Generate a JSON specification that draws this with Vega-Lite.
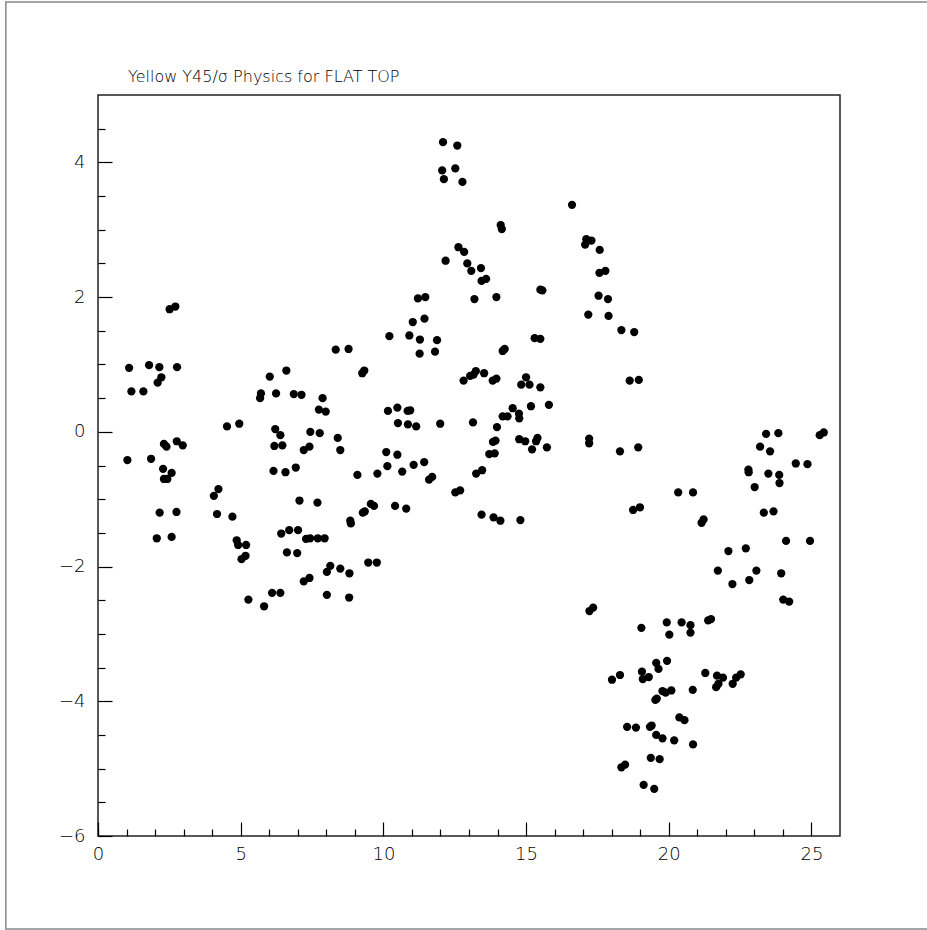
{
  "$schema": "https://vega.github.io/schema/vega-lite/v6.json",
  "width": 742,
  "height": 741,
  "autosize": {"type": "none"},
  "padding": {"left": 98, "top": 95, "right": 87, "bottom": 94},
  "background": "white",
  "config": {"view": {"stroke": "#222222", "strokeWidth": 1.5}, "font": "DejaVu Sans"},
  "title": {"text": "Yellow Y45/σ Physics for FLAT TOP", "anchor": "start", "frame": "group", "orient": "top", "offset": -97, "baseline": "alphabetic", "dx": 30, "font": "DejaVu Sans", "fontSize": 16, "fontWeight": 200, "color": "black"},
  "resolve": {"axis": {"x": "independent", "y": "independent"}},
  "layer": [
    {
      "data": {"values": [{"x1": -3.23, "x2": 29.2, "y1": -7.38, "y2": 6.38}]},
      "mark": {"type": "rect", "filled": false, "stroke": "#888888", "strokeWidth": 1.5, "clip": false},
      "encoding": {
        "x": {"field": "x1", "type": "quantitative", "scale": {"domain": [0, 26], "nice": false, "zero": false}, "axis": null},
        "x2": {"field": "x2"},
        "y": {"field": "y1", "type": "quantitative", "scale": {"domain": [-6, 5], "nice": false, "zero": false}, "axis": null},
        "y2": {"field": "y2"}
      }
    },
    {
      "mark": {"type": "rule", "color": "black", "strokeWidth": 1.5},
      "encoding": {
        "x": {"datum": 0, "type": "quantitative", "scale": {"domain": [0, 26], "nice": false, "zero": false},
          "axis": {"orient": "bottom", "title": null, "domain": false, "grid": false, "labels": false,
            "values": [0,1,2,3,4,6,7,8,9,11,12,13,14,16,17,18,19,21,22,23,24],
            "tickColor": "black", "tickWidth": 1.2, "tickSize": -7}},
        "x2": {"datum": 26},
        "y": {"datum": 0, "type": "quantitative", "scale": {"domain": [-6, 5], "nice": false, "zero": false},
          "axis": {"orient": "left", "title": null, "domain": false, "grid": false, "labels": false,
            "values": [-5.5,-5,-4.5,-3.5,-3,-2.5,-1.5,-1,-0.5,0.5,1,1.5,2.5,3,3.5,4.5],
            "tickColor": "black", "tickWidth": 1.2, "tickSize": -7}}
      }
    },
    {
      "data": {"values": [
        {"x": 1.09, "y": 0.95}, {"x": 1.17, "y": 0.60}, {"x": 1.59, "y": 0.60}, {"x": 1.79, "y": 0.99},
        {"x": 2.15, "y": 0.96}, {"x": 2.22, "y": 0.81}, {"x": 2.09, "y": 0.73}, {"x": 2.77, "y": 0.96},
        {"x": 1.03, "y": -0.42}, {"x": 1.86, "y": -0.40}, {"x": 2.31, "y": -0.18}, {"x": 2.40, "y": -0.22},
        {"x": 2.76, "y": -0.14}, {"x": 2.97, "y": -0.20}, {"x": 2.28, "y": -0.55}, {"x": 2.58, "y": -0.61},
        {"x": 2.31, "y": -0.70}, {"x": 2.43, "y": -0.70}, {"x": 2.16, "y": -1.20}, {"x": 2.75, "y": -1.19},
        {"x": 2.06, "y": -1.58}, {"x": 2.58, "y": -1.56}, {"x": 2.51, "y": 1.82}, {"x": 2.71, "y": 1.86},
        {"x": 4.52, "y": 0.08}, {"x": 4.95, "y": 0.12}, {"x": 4.06, "y": -0.95}, {"x": 4.22, "y": -0.85},
        {"x": 4.17, "y": -1.22}, {"x": 4.71, "y": -1.26}, {"x": 4.86, "y": -1.61}, {"x": 4.91, "y": -1.68},
        {"x": 5.19, "y": -1.68}, {"x": 5.03, "y": -1.89}, {"x": 5.17, "y": -1.84}, {"x": 5.27, "y": -2.49},
        {"x": 5.82, "y": -2.59}, {"x": 6.10, "y": -2.39}, {"x": 6.39, "y": -2.39}, {"x": 8.02, "y": -2.42},
        {"x": 6.02, "y": 0.82}, {"x": 6.60, "y": 0.91}, {"x": 5.71, "y": 0.57}, {"x": 5.68, "y": 0.50},
        {"x": 6.24, "y": 0.57}, {"x": 6.86, "y": 0.56}, {"x": 7.13, "y": 0.55}, {"x": 7.87, "y": 0.50},
        {"x": 7.74, "y": 0.33}, {"x": 7.98, "y": 0.30}, {"x": 8.33, "y": 1.22}, {"x": 8.78, "y": 1.23},
        {"x": 6.21, "y": 0.04}, {"x": 6.39, "y": -0.05}, {"x": 6.18, "y": -0.21}, {"x": 6.46, "y": -0.20},
        {"x": 7.44, "y": 0.00}, {"x": 7.77, "y": -0.02}, {"x": 7.21, "y": -0.27}, {"x": 7.41, "y": -0.22},
        {"x": 8.40, "y": -0.09}, {"x": 8.49, "y": -0.27}, {"x": 6.15, "y": -0.58}, {"x": 6.57, "y": -0.60},
        {"x": 6.93, "y": -0.53}, {"x": 7.06, "y": -1.02}, {"x": 7.69, "y": -1.05}, {"x": 6.42, "y": -1.51},
        {"x": 6.70, "y": -1.46}, {"x": 7.01, "y": -1.46}, {"x": 7.29, "y": -1.59}, {"x": 7.43, "y": -1.58},
        {"x": 7.70, "y": -1.58}, {"x": 7.94, "y": -1.58}, {"x": 6.62, "y": -1.79}, {"x": 6.98, "y": -1.80},
        {"x": 7.21, "y": -2.22}, {"x": 7.41, "y": -2.17}, {"x": 8.02, "y": -2.08}, {"x": 8.14, "y": -1.99},
        {"x": 8.49, "y": -2.03}, {"x": 8.81, "y": -2.10}, {"x": 8.80, "y": -2.46}, {"x": 9.09, "y": -0.64},
        {"x": 9.79, "y": -0.62}, {"x": 10.14, "y": -0.51}, {"x": 10.10, "y": -0.30}, {"x": 10.49, "y": -0.34},
        {"x": 10.66, "y": -0.59}, {"x": 11.06, "y": -0.49}, {"x": 11.43, "y": -0.45}, {"x": 11.60, "y": -0.71},
        {"x": 11.71, "y": -0.67}, {"x": 12.52, "y": -0.90}, {"x": 12.69, "y": -0.87}, {"x": 10.16, "y": 0.31},
        {"x": 10.49, "y": 0.36}, {"x": 10.85, "y": 0.31}, {"x": 10.94, "y": 0.32}, {"x": 10.51, "y": 0.13},
        {"x": 10.86, "y": 0.11}, {"x": 11.15, "y": 0.08}, {"x": 11.99, "y": 0.12}, {"x": 13.14, "y": 0.14},
        {"x": 9.26, "y": 0.87}, {"x": 9.33, "y": 0.91}, {"x": 10.21, "y": 1.42}, {"x": 10.91, "y": 1.43},
        {"x": 11.03, "y": 1.63}, {"x": 11.44, "y": 1.68}, {"x": 11.21, "y": 1.98}, {"x": 11.47, "y": 2.00},
        {"x": 11.28, "y": 1.37}, {"x": 11.88, "y": 1.36}, {"x": 11.27, "y": 1.16}, {"x": 11.81, "y": 1.19},
        {"x": 12.09, "y": 4.30}, {"x": 12.59, "y": 4.25}, {"x": 12.06, "y": 3.88}, {"x": 12.52, "y": 3.91},
        {"x": 12.12, "y": 3.75}, {"x": 12.77, "y": 3.71}, {"x": 12.18, "y": 2.54}, {"x": 12.63, "y": 2.74},
        {"x": 12.83, "y": 2.67}, {"x": 12.94, "y": 2.50}, {"x": 13.08, "y": 2.39}, {"x": 13.42, "y": 2.43},
        {"x": 13.44, "y": 2.24}, {"x": 13.60, "y": 2.27}, {"x": 13.19, "y": 1.97}, {"x": 13.96, "y": 2.00},
        {"x": 14.11, "y": 3.07}, {"x": 14.15, "y": 3.01}, {"x": 12.81, "y": 0.76}, {"x": 13.04, "y": 0.83},
        {"x": 13.16, "y": 0.85}, {"x": 13.24, "y": 0.90}, {"x": 13.53, "y": 0.87}, {"x": 13.83, "y": 0.76},
        {"x": 13.96, "y": 0.79}, {"x": 14.18, "y": 1.20}, {"x": 14.25, "y": 1.23}, {"x": 14.83, "y": 0.70},
        {"x": 15.00, "y": 0.81}, {"x": 15.12, "y": 0.70}, {"x": 15.50, "y": 0.66}, {"x": 15.80, "y": 0.40},
        {"x": 15.17, "y": 0.38}, {"x": 14.53, "y": 0.35}, {"x": 14.18, "y": 0.23}, {"x": 14.35, "y": 0.23},
        {"x": 14.75, "y": 0.27}, {"x": 14.76, "y": 0.20}, {"x": 13.98, "y": 0.07}, {"x": 13.84, "y": -0.15},
        {"x": 13.93, "y": -0.13}, {"x": 13.71, "y": -0.33}, {"x": 13.90, "y": -0.32}, {"x": 14.76, "y": -0.11},
        {"x": 14.97, "y": -0.14}, {"x": 15.21, "y": -0.26}, {"x": 15.35, "y": -0.14}, {"x": 15.40, "y": -0.09},
        {"x": 15.73, "y": -0.23}, {"x": 13.25, "y": -0.62}, {"x": 13.46, "y": -0.57}, {"x": 13.44, "y": -1.23},
        {"x": 13.86, "y": -1.27}, {"x": 14.10, "y": -1.32}, {"x": 14.80, "y": -1.31}, {"x": 8.84, "y": -1.32},
        {"x": 8.86, "y": -1.36}, {"x": 9.28, "y": -1.20}, {"x": 9.35, "y": -1.18}, {"x": 9.56, "y": -1.07},
        {"x": 9.67, "y": -1.10}, {"x": 10.41, "y": -1.10}, {"x": 10.80, "y": -1.14}, {"x": 9.47, "y": -1.94},
        {"x": 9.77, "y": -1.94}, {"x": 15.30, "y": 1.39}, {"x": 15.50, "y": 1.38}, {"x": 15.50, "y": 2.11},
        {"x": 15.57, "y": 2.10}, {"x": 16.61, "y": 3.37}, {"x": 17.11, "y": 2.86}, {"x": 17.07, "y": 2.78},
        {"x": 17.29, "y": 2.84}, {"x": 17.58, "y": 2.70}, {"x": 17.57, "y": 2.36}, {"x": 17.78, "y": 2.39},
        {"x": 17.54, "y": 2.02}, {"x": 17.87, "y": 1.97}, {"x": 17.18, "y": 1.74}, {"x": 17.89, "y": 1.72},
        {"x": 18.34, "y": 1.51}, {"x": 18.79, "y": 1.48}, {"x": 18.63, "y": 0.76}, {"x": 18.95, "y": 0.77},
        {"x": 17.21, "y": -0.10}, {"x": 17.21, "y": -0.17}, {"x": 18.29, "y": -0.29}, {"x": 18.93, "y": -0.23},
        {"x": 18.75, "y": -1.16}, {"x": 18.99, "y": -1.12}, {"x": 17.35, "y": -2.61}, {"x": 17.22, "y": -2.66},
        {"x": 20.33, "y": -0.90}, {"x": 20.85, "y": -0.90}, {"x": 21.15, "y": -1.35}, {"x": 21.22, "y": -1.30},
        {"x": 22.09, "y": -1.77}, {"x": 22.70, "y": -1.73}, {"x": 21.72, "y": -2.06}, {"x": 22.23, "y": -2.26},
        {"x": 22.82, "y": -2.20}, {"x": 23.07, "y": -2.06}, {"x": 23.94, "y": -2.10}, {"x": 24.11, "y": -1.62},
        {"x": 24.95, "y": -1.62}, {"x": 23.41, "y": -0.03}, {"x": 23.84, "y": -0.02}, {"x": 23.20, "y": -0.22},
        {"x": 23.55, "y": -0.29}, {"x": 25.29, "y": -0.05}, {"x": 25.43, "y": -0.01}, {"x": 22.79, "y": -0.56},
        {"x": 22.80, "y": -0.60}, {"x": 23.49, "y": -0.62}, {"x": 23.87, "y": -0.64}, {"x": 23.88, "y": -0.76},
        {"x": 23.01, "y": -0.82}, {"x": 23.33, "y": -1.20}, {"x": 23.67, "y": -1.18}, {"x": 24.45, "y": -0.47},
        {"x": 24.86, "y": -0.48}, {"x": 24.01, "y": -2.49}, {"x": 24.22, "y": -2.52}, {"x": 19.04, "y": -2.91},
        {"x": 19.93, "y": -2.83}, {"x": 20.02, "y": -3.01}, {"x": 20.45, "y": -2.83}, {"x": 20.76, "y": -2.87},
        {"x": 20.76, "y": -2.98}, {"x": 21.38, "y": -2.80}, {"x": 21.48, "y": -2.78}, {"x": 19.56, "y": -3.43},
        {"x": 19.94, "y": -3.40}, {"x": 19.64, "y": -3.52}, {"x": 19.06, "y": -3.56}, {"x": 19.09, "y": -3.67},
        {"x": 19.30, "y": -3.64}, {"x": 18.01, "y": -3.68}, {"x": 18.29, "y": -3.61}, {"x": 19.78, "y": -3.85},
        {"x": 19.89, "y": -3.87}, {"x": 20.09, "y": -3.84}, {"x": 20.84, "y": -3.83}, {"x": 19.53, "y": -3.98},
        {"x": 19.58, "y": -3.96}, {"x": 21.28, "y": -3.58}, {"x": 21.69, "y": -3.62}, {"x": 21.90, "y": -3.65},
        {"x": 21.66, "y": -3.79}, {"x": 21.74, "y": -3.74}, {"x": 22.24, "y": -3.74}, {"x": 22.36, "y": -3.65},
        {"x": 22.52, "y": -3.60}, {"x": 20.37, "y": -4.24}, {"x": 20.55, "y": -4.28}, {"x": 18.54, "y": -4.38},
        {"x": 18.85, "y": -4.39}, {"x": 19.34, "y": -4.38}, {"x": 19.40, "y": -4.36}, {"x": 19.56, "y": -4.50},
        {"x": 19.78, "y": -4.55}, {"x": 20.19, "y": -4.58}, {"x": 20.85, "y": -4.64}, {"x": 19.37, "y": -4.84},
        {"x": 19.68, "y": -4.86}, {"x": 18.34, "y": -4.98}, {"x": 18.47, "y": -4.94}, {"x": 19.12, "y": -5.24},
        {"x": 19.49, "y": -5.30}
      ]},
      "mark": {"type": "circle", "color": "black", "opacity": 1, "size": 68},
      "encoding": {
        "x": {
          "field": "x", "type": "quantitative",
          "scale": {"domain": [0, 26], "nice": false, "zero": false},
          "axis": {
            "orient": "bottom", "title": null, "domain": false, "grid": false,
            "values": [0, 5, 10, 15, 20, 25],
            "tickColor": "black", "tickWidth": 1.2, "tickSize": -14,
            "labelFont": "DejaVu Sans", "labelFontSize": 18, "labelFontWeight": 200, "labelColor": "black",
            "labelPadding": 23, "labelFlush": false, "labelOverlap": false, "labelBound": false
          }
        },
        "y": {
          "field": "y", "type": "quantitative",
          "scale": {"domain": [-6, 5], "nice": false, "zero": false},
          "axis": {
            "orient": "left", "title": null, "domain": false, "grid": false,
            "values": [-6, -4, -2, 0, 2, 4],
            "tickColor": "black", "tickWidth": 1.2, "tickSize": -14,
            "labelFont": "DejaVu Sans", "labelFontSize": 18, "labelFontWeight": 200, "labelColor": "black",
            "labelPadding": 27, "labelFlush": false, "labelOverlap": false, "labelBound": false
          }
        }
      }
    }
  ]
}
